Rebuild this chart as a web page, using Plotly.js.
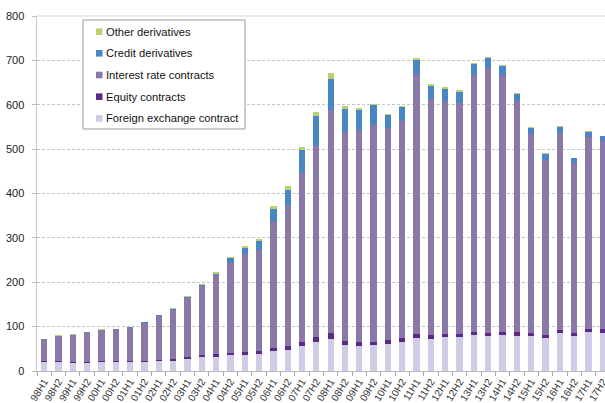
<!DOCTYPE html>
<html>
<head>
<meta charset="utf-8">
<script src="https://cdn.plot.ly/plotly-3.0.1.min.js"></script>
<style>
html,body{margin:0;padding:0;overflow:hidden;width:605px;height:403px;background:#fff;}
#chart{width:612px;height:403px;}
</style>
</head>
<body>
<div id="chart"></div>
<script>
var periods = ["98H1","98H2","99H1","99H2","00H1","00H2","01H1","01H2","02H1","02H2",
  "03H1","03H2","04H1","04H2","05H1","05H2","06H1","06H2","07H1","07H2",
  "08H1","08H2","09H1","09H2","10H1","10H2","11H1","11H2","12H1","12H2",
  "13H1","13H2","14H1","14H2","15H1","15H2","16H1","16H2","17H1","17H2"];

var foreignExchange = [21,21,19,17.5,20,19.5,20,20,22,23,
  27,31,32,35,36,37.5,44,48,56.5,65.5,
  73,59,57,58,61,66,75,73,76,76.5,
  80.5,78,82,80,79.5,74.5,85,78,87,86.5];
var equity = [1.5,1.5,2,3,2,2,2.5,2.5,3,4,
  4.5,5,5.5,5.5,6,6.5,8.5,8,9,10.5,
  13,8.5,8.5,8,8,7.5,7.5,7.5,6.5,7,
  6.5,7,6.5,7,7,6.5,6.5,7,8.5,7.5];
var interestRate = [48.5,57.5,61,66.5,71,72.5,75.5,86,99.5,111.5,
  134,156,178,203.5,221,228,283.5,316,381,431,
  502,471.5,477.5,489.5,477.5,490.5,586,531.5,525,519.5,
  579,598.5,577.5,521,447.5,395.5,445.5,383.5,432.5,425];
var credit = [0,0,0,0,0,0,0.5,1,1,1.5,
  1.5,2,3.5,10.5,15,20.5,28.5,36,52.5,68,
  69,52,45,43,30.5,30.5,32.5,31,27.5,26,
  25,21.5,20.5,16,13,11.5,12,11.5,11,9.5];
var other = [1,1,1,1,1,1,1.5,1.5,1.5,2,
  2,2,4,3,3,6,6.5,9,6,9,
  14,6,5,3,3,3,3.5,3.5,4,4,
  3,3,3,2,3,3,2,1,1.5,0.5];

var seriesNames = ["Foreign exchange contract","Equity contracts","Interest rate contracts","Credit derivatives","Other derivatives"];
var seriesValues = [foreignExchange, equity, interestRate, credit, other];
var seriesColors = ["#d0cce6","#5b2a86","#8a78a9","#4a86c4","#b9d26d"];

var traces = seriesValues.map(function(vals, i){
  return {
    type: "bar",
    name: seriesNames[i],
    x: periods,
    y: vals,
    marker: {color: seriesColors[i], line: {width: 0}},
    hoverinfo: "x+y+name"
  };
});

// Custom legend (box, swatches, labels) in paper coordinates
var plotL = 37, plotW = 573, plotT = 16, plotH = 355;
function px2x(p){ return (p - plotL) / plotW; }
function py2y(p){ return (plotT + plotH - p) / plotH; }

var shapes = [{
  type: "line", xref: "paper", yref: "paper",
  x0: 0, x1: 1, y0: 1, y1: 1,
  line: {color: "#e4e4e4", width: 1.5}
}, {
  type: "rect", xref: "paper", yref: "paper",
  x0: px2x(83), x1: px2x(245), y0: py2y(129), y1: py2y(20),
  fillcolor: "#fff", line: {color: "#999", width: 1}, layer: "above"
}];
var annotations = [];
var rowCenters = [31.7, 53.3, 75, 96.7, 118.5];
for (var k = 0; k < 5; k++) {
  var si = 4 - k;
  var c = rowCenters[k];
  shapes.push({
    type: "rect", xref: "paper", yref: "paper",
    x0: px2x(96), x1: px2x(102.5), y0: py2y(c + 3.3), y1: py2y(c - 3.3),
    fillcolor: seriesColors[si], line: {width: 0}, layer: "above"
  });
  annotations.push({
    xref: "paper", yref: "paper", x: px2x(104), y: py2y(c),
    xanchor: "left", yanchor: "middle", showarrow: false,
    text: seriesNames[si],
    font: {size: 11.2, color: "#111", family: "Liberation Sans, Arial, sans-serif"}
  });
}

var layout = {
  width: 612,
  height: 403,
  margin: {l: 37, r: 2, t: 16, b: 32, pad: 0},
  paper_bgcolor: "#fff",
  plot_bgcolor: "#fff",
  barmode: "stack",
  bargap: 0.56,
  showlegend: false,
  font: {family: "Liberation Sans, Arial, sans-serif", color: "#222", size: 11},
  xaxis: {
    type: "category",
    tickson: "boundaries",
    ticks: "outside",
    ticklen: 4,
    tickcolor: "#aaa",
    showline: true,
    linecolor: "#bbb",
    linewidth: 1,
    showgrid: false,
    tickangle: -58,
    tickfont: {size: 10, color: "#333"},
    automargin: false,
    fixedrange: true
  },
  yaxis: {
    range: [0, 800],
    dtick: 100,
    tick0: 0,
    ticks: "outside",
    ticklen: 4,
    tickcolor: "#bbb",
    ticklabelstandoff: 5,
    showline: true,
    linecolor: "#c8c8c8",
    linewidth: 1.5,
    showgrid: true,
    gridcolor: "#c4c4c4",
    gridwidth: 1,
    griddash: "3px,2px",
    zeroline: false,
    tickfont: {size: 11, color: "#222"},
    automargin: false,
    fixedrange: true
  },
  shapes: shapes,
  annotations: annotations
};

Plotly.newPlot("chart", traces, layout, {displayModeBar: false, staticPlot: true});
</script>
</body>
</html>
